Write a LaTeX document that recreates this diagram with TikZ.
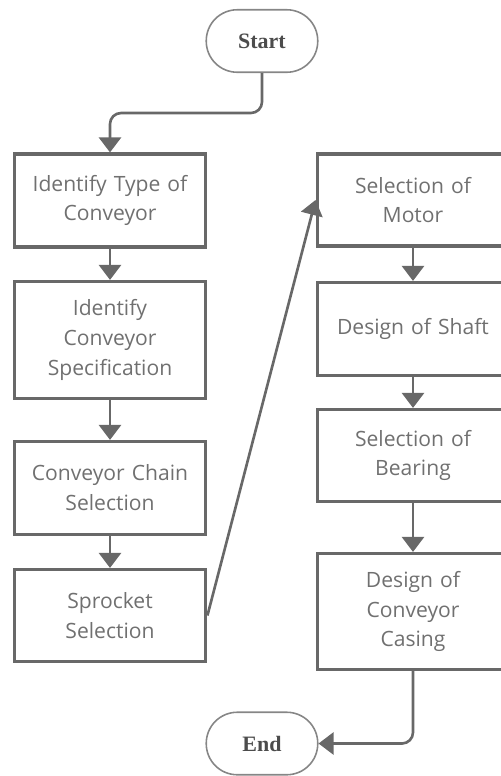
\documentclass[tikz,border=0pt]{standalone}
\usepackage{fontspec}
\setmainfont{Liberation Serif}
\newfontfamily\boxfont{Open Sans}
\usepackage{tikz}
\usetikzlibrary{arrows.meta}
\definecolor{linegray}{HTML}{686868}
\definecolor{textgray}{HTML}{707070}

\begin{document}
\begin{tikzpicture}[
	term/.style={draw=linegray!80, line width=0.9pt, rounded corners=0.62cm,
		minimum width=2.23cm, minimum height=1.25cm,
		font=\bfseries\fontsize{12.5}{14}\selectfont, text=black!70},
	proc/.style={draw=linegray, line width=1.8pt, minimum width=3.8cm,
		text width=3.6cm, align=center, text=textgray,
		font=\boxfont\fontsize{12}{17}\selectfont},
	flow/.style={draw=linegray, line width=1.5pt, rounded corners=0.22cm,
		-{Triangle[width=0.44cm,length=0.3cm]}}
]
	\clip (0,0) rectangle (10.02,-15.52);
	% terminals
	\node[term] (start) at (5.24,-0.82) {Start};
	\node[term] (end) at (5.24,-14.87) {End};
	% left column
	\node[proc, minimum height=1.86cm] (type) at (2.2,-4.01) {Identify Type of\\Conveyor};
	\node[proc, minimum height=2.34cm] (spec) at (2.2,-6.8) {Identify\\Conveyor\\Specification};
	\node[proc, minimum height=1.86cm] (chain) at (2.2,-9.76) {Conveyor Chain\\Selection};
	\node[proc, minimum height=1.84cm] (sprocket) at (2.2,-12.31) {Sprocket\\Selection};
	% right column
	\node[proc, minimum height=1.84cm] (motor) at (8.26,-4.0) {Selection of\\Motor};
	\node[proc, minimum height=1.86cm] (shaft) at (8.26,-6.58) {Design of Shaft};
	\node[proc, minimum height=1.84cm] (bearing) at (8.26,-9.11) {Selection of\\Bearing};
	\node[proc, minimum height=2.32cm] (casing) at (8.26,-12.23) {Design of\\Conveyor\\Casing};
	\coordinate (bend) at (2.2,-2.26);
	% connectors
	\draw[flow] (start.south) |- (bend) -- (type.north);
	\draw[flow] (type) -- (spec);
	\draw[flow] (spec) -- (chain);
	\draw[flow] (chain) -- (sprocket);
	\draw[flow] (sprocket.east) -- (motor.west);
	\draw[flow] (motor) -- (shaft);
	\draw[flow] (shaft) -- (bearing);
	\draw[flow] (bearing) -- (casing);
	\draw[flow] (casing.south) |- (end.east);
\end{tikzpicture}
\end{document}
